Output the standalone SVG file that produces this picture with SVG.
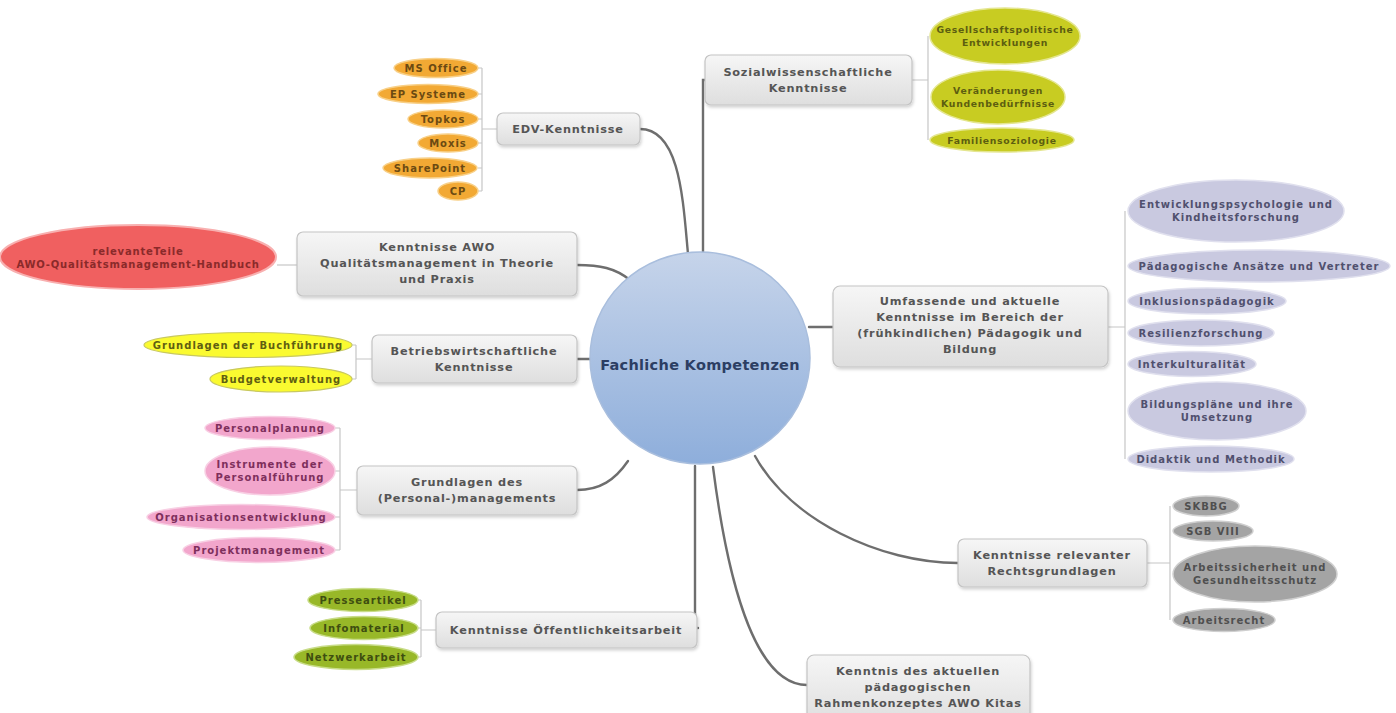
<svg xmlns="http://www.w3.org/2000/svg" width="1396" height="713" viewBox="0 0 1396 713">
<defs>
<linearGradient id="gBox" x1="0" y1="0" x2="0" y2="1"><stop offset="0" stop-color="#f6f6f6"/><stop offset="1" stop-color="#dedede"/></linearGradient>
<linearGradient id="gCenter" x1="0" y1="0" x2="0" y2="1"><stop offset="0" stop-color="#c6d4ea"/><stop offset="1" stop-color="#8eaedb"/></linearGradient>
<filter id="sh" x="-10%" y="-10%" width="130%" height="140%"><feDropShadow dx="1" dy="2" stdDeviation="1.5" flood-color="#000" flood-opacity="0.18"/></filter>
</defs>
<style>
text{font-family:"DejaVu Sans","Liberation Sans",sans-serif;font-weight:bold;text-anchor:middle}
.box{fill:url(#gBox);stroke:#c4c4c4;stroke-width:1.2;filter:url(#sh)}
.bt{font-size:11.3px;fill:#555;letter-spacing:0.8px}
.conn{fill:none;stroke:#6e6e6e;stroke-width:2.4;stroke-linecap:round}
.br{fill:none;stroke:#c6c6c6;stroke-width:1.2}
.lf text{font-size:10px;letter-spacing:1px}
.sl text{font-size:9.3px;letter-spacing:0.7px}
.or{fill:#f2a934;stroke:#f8d088;stroke-width:1.5}
.ort{fill:#6b4a12}
.yg{fill:#c8cc22;stroke:#e4e690;stroke-width:1.5}
.ygt{fill:#5d5e10}
.rd{fill:#f06060;stroke:#f8b0b0;stroke-width:2}
.rdt{fill:#8a2a2a}
.ye{fill:#fafa30;stroke:#c8c860;stroke-width:1.2}
.yet{fill:#5f5e12}
.pk{fill:#f2a6cc;stroke:#f8d0e4;stroke-width:1.5}
.pkt{fill:#7e2f5c}
.gr{fill:#98b828;stroke:#c8dc88;stroke-width:1.5}
.grt{fill:#3e4e10}
.lv{fill:#c9c9e0;stroke:#e0e0ee;stroke-width:1.5}
.lvt{fill:#50506e}
.gy{fill:#a4a4a4;stroke:#cfcfcf;stroke-width:1.5}
.gyt{fill:#4f4f4f}
</style>

<g id="connectors">
<path class="conn" d="M640,129 C680,129 683,200 688,254"/>
<path class="conn" d="M707,80 L703,80 L703,253"/>
<path class="conn" d="M577,265 C600,265 615,268 630,280"/>
<path class="conn" d="M577,359 L591,359"/>
<path class="conn" d="M577,490 C600,490 615,480 628,461"/>
<path class="conn" d="M695,466 L695,628 L698,628"/>
<path class="conn" d="M809,327 L833,327"/>
<path class="conn" d="M755,456 C790,520 880,563 958,563"/>
<path class="conn" d="M713,467 C730,600 760,685 807,685"/>
<path class="br" d="M482,68 L482,191 M478,68 L482,68 M478,94 L482,94 M478,119 L482,119 M478,143 L482,143 M478,168 L482,168 M478,191 L482,191 M482,129 L497,129"/>
<path class="br" d="M928,36 L928,140 M928,80 L912,80"/>
<path class="br" d="M277,265 L297,265"/>
<path class="br" d="M356,345 L356,379 M352,345 L356,345 M352,379 L356,379 M356,359 L372,359"/>
<path class="br" d="M340,428 L340,550 M335,428 L340,428 M335,471 L340,471 M335,517 L340,517 M335,550 L340,550 M340,490 L357,490"/>
<path class="br" d="M421,600 L421,657 M418,600 L421,600 M418,628 L421,628 M418,657 L421,657 M421,630 L436,630"/>
<path class="br" d="M1125,211 L1125,459 M1108,327 L1125,327"/>
<path class="br" d="M1170,506 L1170,620 M1147,563 L1170,563"/>
</g>

<g id="center">
<ellipse cx="700" cy="358" rx="110" ry="106" fill="url(#gCenter)" stroke="#a9bedd" stroke-width="1.5"/>
<text x="700" y="370" font-size="14.5" fill="#2c3e63" letter-spacing="0.3">Fachliche Kompetenzen</text>
</g>

<g id="edv">
<rect class="box" x="497" y="113" width="143" height="32" rx="6"/>
<text class="bt" x="568" y="133">EDV-Kenntnisse</text>
</g>
<g id="edv-leaves" class="lf">
<ellipse class="or" cx="436" cy="68" rx="42" ry="9.5"/><text class="ort" x="436" y="71.5">MS Office</text>
<ellipse class="or" cx="428" cy="94" rx="50" ry="9.5"/><text class="ort" x="428" y="97.5">EP Systeme</text>
<ellipse class="or" cx="443" cy="119" rx="35" ry="9"/><text class="ort" x="443" y="122.5">Topkos</text>
<ellipse class="or" cx="448" cy="143" rx="30" ry="9"/><text class="ort" x="448" y="146.5">Moxis</text>
<ellipse class="or" cx="430" cy="168" rx="47" ry="10"/><text class="ort" x="430" y="171.5">SharePoint</text>
<ellipse class="or" cx="458" cy="191" rx="20" ry="9"/><text class="ort" x="458" y="194.5">CP</text>
</g>

<g id="sozial">
<rect class="box" x="705" y="55" width="207" height="50" rx="6"/>
<text class="bt" x="808" y="76">Sozialwissenschaftliche</text>
<text class="bt" x="808" y="92">Kenntnisse</text>
</g>
<g id="sozial-leaves" class="sl">
<ellipse class="yg" cx="1005" cy="36" rx="75" ry="28"/>
<text class="ygt" x="1005" y="33">Gesellschaftspolitische</text>
<text class="ygt" x="1005" y="46">Entwicklungen</text>
<ellipse class="yg" cx="998" cy="97" rx="67" ry="27"/>
<text class="ygt" x="998" y="94">Veränderungen</text>
<text class="ygt" x="998" y="107">Kundenbedürfnisse</text>
<ellipse class="yg" cx="1002" cy="140" rx="72" ry="12"/>
<text class="ygt" x="1002" y="143.5">Familiensoziologie</text>
</g>

<g id="awo">
<rect class="box" x="297" y="232" width="280" height="64" rx="6"/>
<text class="bt" x="437" y="251">Kenntnisse AWO</text>
<text class="bt" x="437" y="267">Qualitätsmanagement in Theorie</text>
<text class="bt" x="437" y="283">und Praxis</text>
</g>
<g id="awo-leaf">
<ellipse class="rd" cx="138" cy="257" rx="138" ry="32"/>
<text class="rdt" x="138" y="255" font-size="10" letter-spacing="0.8">relevanteTeile</text>
<text class="rdt" x="138" y="268" font-size="10" letter-spacing="0.8">AWO-Qualitätsmanagement-Handbuch</text>
</g>

<g id="betrieb">
<rect class="box" x="372" y="335" width="205" height="48" rx="6"/>
<text class="bt" x="474" y="355">Betriebswirtschaftliche</text>
<text class="bt" x="474" y="371">Kenntnisse</text>
</g>
<g id="betrieb-leaves" class="lf">
<ellipse class="ye" cx="248" cy="345" rx="104" ry="12.5"/>
<text class="yet" x="248" y="348.5">Grundlagen der Buchführung</text>
<ellipse class="ye" cx="281" cy="379" rx="71" ry="13"/>
<text class="yet" x="281" y="382.5">Budgetverwaltung</text>
</g>

<g id="personal">
<rect class="box" x="357" y="466" width="220" height="49" rx="6"/>
<text class="bt" x="467" y="486">Grundlagen des</text>
<text class="bt" x="467" y="502">(Personal-)managements</text>
</g>
<g id="personal-leaves" class="lf">
<ellipse class="pk" cx="270" cy="428" rx="65" ry="11.5"/>
<text class="pkt" x="270" y="431.5">Personalplanung</text>
<ellipse class="pk" cx="270" cy="471" rx="65" ry="24"/>
<text class="pkt" x="270" y="468">Instrumente der</text>
<text class="pkt" x="270" y="481">Personalführung</text>
<ellipse class="pk" cx="241" cy="517" rx="94" ry="12.5"/>
<text class="pkt" x="241" y="520.5">Organisationsentwicklung</text>
<ellipse class="pk" cx="259" cy="550" rx="76" ry="12.5"/>
<text class="pkt" x="259" y="553.5">Projektmanagement</text>
</g>

<g id="oeffentlich">
<rect class="box" x="436" y="612" width="261" height="36" rx="6"/>
<text class="bt" x="566" y="634">Kenntnisse Öffentlichkeitsarbeit</text>
</g>
<g id="oeffentlich-leaves" class="lf">
<ellipse class="gr" cx="363" cy="600" rx="55" ry="11.5"/>
<text class="grt" x="363" y="603.5">Presseartikel</text>
<ellipse class="gr" cx="364" cy="628" rx="54" ry="11.5"/>
<text class="grt" x="364" y="631.5">Infomaterial</text>
<ellipse class="gr" cx="356" cy="657" rx="62" ry="12.5"/>
<text class="grt" x="356" y="660.5">Netzwerkarbeit</text>
</g>

<g id="paedagogik">
<rect class="box" x="833" y="286" width="275" height="81" rx="7"/>
<text class="bt" x="970" y="305">Umfassende und aktuelle</text>
<text class="bt" x="970" y="321">Kenntnisse im Bereich der</text>
<text class="bt" x="970" y="337">(frühkindlichen) Pädagogik und</text>
<text class="bt" x="970" y="353">Bildung</text>
</g>
<g id="paedagogik-leaves" class="lf">
<ellipse class="lv" cx="1236" cy="211" rx="108" ry="31"/>
<text class="lvt" x="1236" y="208">Entwicklungspsychologie und</text>
<text class="lvt" x="1236" y="221">Kindheitsforschung</text>
<ellipse class="lv" cx="1259" cy="266" rx="131" ry="16"/>
<text class="lvt" x="1259" y="269.5">Pädagogische Ansätze und Vertreter</text>
<ellipse class="lv" cx="1207" cy="301" rx="79" ry="13"/>
<text class="lvt" x="1207" y="304.5">Inklusionspädagogik</text>
<ellipse class="lv" cx="1201" cy="333" rx="73" ry="13"/>
<text class="lvt" x="1201" y="336.5">Resilienzforschung</text>
<ellipse class="lv" cx="1192" cy="364" rx="64" ry="12.5"/>
<text class="lvt" x="1192" y="367.5">Interkulturalität</text>
<ellipse class="lv" cx="1217" cy="411" rx="89" ry="29"/>
<text class="lvt" x="1217" y="408">Bildungspläne und ihre</text>
<text class="lvt" x="1217" y="421">Umsetzung</text>
<ellipse class="lv" cx="1211" cy="459" rx="83" ry="13"/>
<text class="lvt" x="1211" y="462.5">Didaktik und Methodik</text>
</g>

<g id="recht">
<rect class="box" x="958" y="539" width="189" height="48" rx="6"/>
<text class="bt" x="1052" y="559">Kenntnisse relevanter</text>
<text class="bt" x="1052" y="575">Rechtsgrundlagen</text>
</g>
<g id="recht-leaves" class="lf">
<ellipse class="gy" cx="1206" cy="506" rx="33" ry="10"/>
<text class="gyt" x="1206" y="509.5">SKBBG</text>
<ellipse class="gy" cx="1213" cy="531" rx="40" ry="10"/>
<text class="gyt" x="1213" y="534.5">SGB VIII</text>
<ellipse class="gy" cx="1255" cy="574" rx="82" ry="28"/>
<text class="gyt" x="1255" y="571">Arbeitssicherheit und</text>
<text class="gyt" x="1255" y="584">Gesundheitsschutz</text>
<ellipse class="gy" cx="1224" cy="620" rx="51" ry="11.5"/>
<text class="gyt" x="1224" y="623.5">Arbeitsrecht</text>
</g>

<g id="rahmen">
<rect class="box" x="807" y="655" width="223" height="70" rx="7"/>
<text class="bt" x="918" y="675">Kenntnis des aktuellen</text>
<text class="bt" x="918" y="691">pädagogischen</text>
<text class="bt" x="918" y="707">Rahmenkonzeptes AWO Kitas</text>
</g>
</svg>
